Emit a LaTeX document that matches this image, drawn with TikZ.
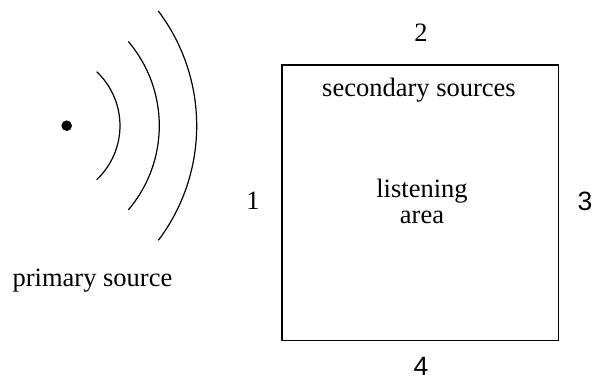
\documentclass[tikz,border=0pt]{standalone}
\usepackage{fontspec}
\setmainfont{Liberation Serif}
\newfontfamily\digitsans{Liberation Sans}
\begin{document}
\begin{tikzpicture}[x=1pt,y=-1pt,
  wave/.style={line width=1.2pt},
  lbl/.style={font=\fontsize{26.5}{25.5}\selectfont, inner sep=0pt, anchor=base},
  area/.style={draw, line width=1.4pt}]
\useasboundingbox (0,0) rectangle (595,383);
% primary source
\fill (66.7,125.7) circle[radius=5.3] coordinate (src);
\coordinate (c1) at (45.8,125.7);
\coordinate (c2) at (29.4,125.7);
\coordinate (c3) at (6.2,125.7);
\draw[wave] ([shift={(-46.7:74.2)}]c1) arc[start angle=-46.7, end angle=46.7, radius=74.2];
\draw[wave] ([shift={(-40.4:129.9)}]c2) arc[start angle=-40.4, end angle=40.4, radius=129.9];
\draw[wave] ([shift={(-37:190.5)}]c3) arc[start angle=-37, end angle=37, radius=190.5];
\node[lbl] (ps) at (92.5,286) {primary source};
% listening area
\draw[area] (282,65) rectangle (558.3,340.7);
\node[lbl] (ss) at (419,96.5) {secondary sources};
\node[lbl, align=center] (la) at (422,223) {listening\\area};
\node[lbl] (n1) at (253,209) {1};
\node[lbl] (n2) at (421,41) {2};
\node[lbl] (n3) at (585,210) {\digitsans 3};
\node[lbl] (n4) at (421,375) {\digitsans 4};
\end{tikzpicture}
\end{document}
